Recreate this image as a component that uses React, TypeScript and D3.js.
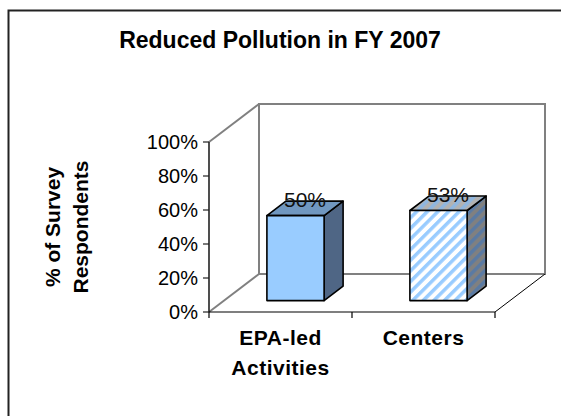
import { useEffect, useRef } from "react";
import * as d3 from "d3";

const categories = ["EPA-led Activities", "Centers"];
const categoryLines = [["EPA-led", "Activities"], ["Centers"]];
const values = [50, 53];
const yTicks = [0, 20, 40, 60, 80, 100];
const title = "Reduced Pollution in FY 2007";
const yTitle = ["% of Survey", "Respondents"];

const App = () => {
  const svgRef = useRef<SVGSVGElement>(null);

  useEffect(() => {
    const width = 561;
    const height = 416;
    const font = "'Liberation Sans', Arial, sans-serif";

    // front plane of the 3D box
    const left = 209;
    const right = 495;
    const bottom = 312;
    const top = 142;
    const depthX = 50;
    const depthY = -38;

    const x = d3.scaleBand().domain(categories).range([left, right]);
    const y = d3.scaleLinear().domain([0, 100]).range([bottom, top]);

    const svg = d3.select(svgRef.current);
    svg.selectAll("*").remove();
    svg.attr("width", width).attr("height", height).attr("viewBox", [0, 0, width, height]);

    // patterns for the striped bar
    const defs = svg.append("defs");
    const stripe = (id: string, bg: string, fg: string) => {
      const p = defs.append("pattern")
        .attr("id", id)
        .attr("patternUnits", "userSpaceOnUse")
        .attr("width", 7.5)
        .attr("height", 7.5)
        .attr("patternTransform", "rotate(45)");
      p.append("rect").attr("width", 7.5).attr("height", 7.5).attr("fill", bg);
      p.append("rect").attr("width", 3.5).attr("height", 7.5).attr("fill", fg);
    };
    stripe("stripeFront", "#ffffff", "#99ccff");
    stripe("stripeTop", "#b2b2b2", "#8fb6df");
    stripe("stripeSide", "#808080", "#5a7aa3");

    // outer frame
    svg.append("path")
      .attr("d", `M8.5,${height} V10.5 H${width}`)
      .attr("fill", "none")
      .attr("stroke", "#222")
      .attr("stroke-width", 2);

    // title
    svg.append("text")
      .attr("x", 280)
      .attr("y", 48)
      .attr("text-anchor", "middle")
      .attr("font-family", font)
      .attr("font-weight", "bold")
      .attr("font-size", 23)
      .text(title);

    // walls
    const walls = svg.append("g").attr("fill", "none").attr("stroke", "#808080").attr("stroke-width", 2);
    walls.append("rect")
      .attr("x", left + depthX)
      .attr("y", top + depthY)
      .attr("width", right - left)
      .attr("height", bottom - top);
    walls.append("line").attr("x1", left).attr("y1", top).attr("x2", left + depthX).attr("y2", top + depthY);
    walls.append("line").attr("x1", left).attr("y1", bottom).attr("x2", left + depthX).attr("y2", bottom + depthY);

    svg.append("line")
      .attr("x1", right).attr("y1", bottom)
      .attr("x2", right + depthX).attr("y2", bottom + depthY)
      .attr("stroke", "#000").attr("stroke-width", 1);

    // bars
    const offX = depthX * 0.3;
    const offY = depthY * 0.3;
    const bdx = depthX * 0.38;
    const bdy = depthY * 0.38;
    const bw = x.bandwidth() * 0.4;

    const faces = [
      { front: "#99ccff", top: "#7097c0", side: "#4f6685" },
      { front: "url(#stripeFront)", top: "url(#stripeTop)", side: "url(#stripeSide)" },
    ];

    categories.forEach((c, i) => {
      const x0 = (x(c) as number) + x.bandwidth() * 0.3 + offX;
      const x1 = x0 + bw;
      const yt = y(values[i]) + offY;
      const yb = y(0) + offY;
      const g = svg.append("g").attr("stroke", "#000").attr("stroke-width", 1.6).attr("stroke-linejoin", "round");
      g.append("path")
        .attr("d", `M${x1},${yt} L${x1 + bdx},${yt + bdy} L${x1 + bdx},${yb + bdy} L${x1},${yb} Z`)
        .attr("fill", faces[i].side);
      g.append("path")
        .attr("d", `M${x0},${yt} L${x1},${yt} L${x1 + bdx},${yt + bdy} L${x0 + bdx},${yt + bdy} Z`)
        .attr("fill", faces[i].top);
      g.append("rect")
        .attr("x", x0).attr("y", yt)
        .attr("width", bw).attr("height", yb - yt)
        .attr("fill", faces[i].front);

      svg.append("text")
        .attr("x", (x0 + x1) / 2 + bdx / 2)
        .attr("y", yt + bdy / 2 - 1)
        .attr("text-anchor", "middle")
        .attr("font-family", font)
        .attr("font-size", 21)
        .attr("fill", "#111")
        .text(`${values[i]}%`);
    });

    // y axis
    const yAxis = svg.append("g");
    yAxis.append("line")
      .attr("x1", left).attr("y1", top).attr("x2", left).attr("y2", bottom)
      .attr("stroke", "#222").attr("stroke-width", 1.6);
    yTicks.forEach((t) => {
      yAxis.append("line")
        .attr("x1", left - 6).attr("x2", left)
        .attr("y1", y(t)).attr("y2", y(t))
        .attr("stroke", "#222").attr("stroke-width", 1.2);
      yAxis.append("text")
        .attr("x", 198)
        .attr("y", y(t))
        .attr("dy", "0.35em")
        .attr("text-anchor", "end")
        .attr("font-family", font)
        .attr("font-size", 20)
        .text(`${t}%`);
    });

    // x axis
    const xAxis = svg.append("g");
    xAxis.append("line")
      .attr("x1", left).attr("y1", bottom).attr("x2", right).attr("y2", bottom)
      .attr("stroke", "#000").attr("stroke-width", 1.2);
    [left, ...categories.map((c) => (x(c) as number) + x.bandwidth())].forEach((tx) => {
      xAxis.append("line")
        .attr("x1", tx).attr("x2", tx)
        .attr("y1", bottom).attr("y2", bottom + 6)
        .attr("stroke", "#000").attr("stroke-width", 1.2);
    });
    categories.forEach((c, i) => {
      const t = xAxis.append("text")
        .attr("text-anchor", "middle")
        .attr("font-family", font)
        .attr("font-weight", "bold")
        .attr("font-size", 21)
        .attr("letter-spacing", 0.5);
      categoryLines[i].forEach((line, j) => {
        t.append("tspan")
          .attr("x", (x(c) as number) + x.bandwidth() / 2)
          .attr("y", 345 + j * 30)
          .text(line);
      });
    });

    // y title
    const yt = svg.append("text")
      .attr("transform", "translate(0,227) rotate(-90)")
      .attr("text-anchor", "middle")
      .attr("font-family", font)
      .attr("font-weight", "bold")
      .attr("font-size", 21);
    yTitle.forEach((line, j) => {
      yt.append("tspan").attr("x", 0).attr("y", 60 + j * 28).text(line);
    });
  }, []);

  return (
    <svg
      ref={svgRef}
      style={{ position: "absolute", left: 0, top: 0, background: "#fff" }}
    />
  );
};

export default App;
